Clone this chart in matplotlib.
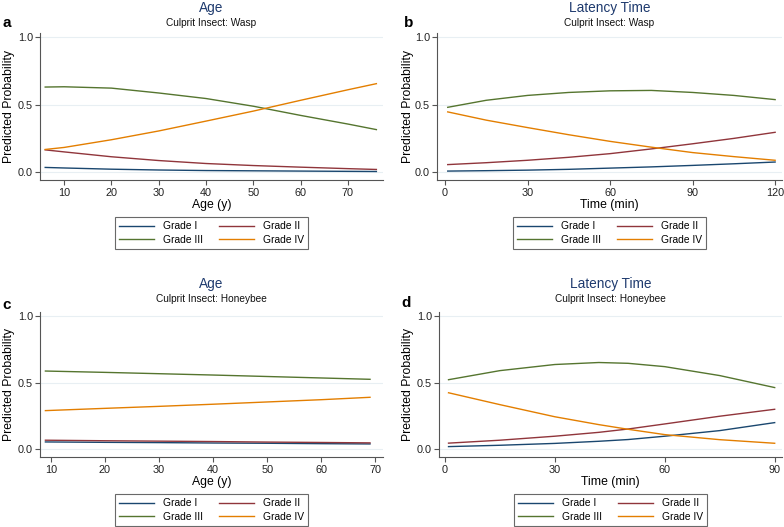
import matplotlib.pyplot as plt

plt.rcParams['font.family'] = ['Liberation Sans', 'DejaVu Sans']

# Panel a: Age, Wasp
age_wasp = [6, 10, 20, 30, 40, 50, 60, 70, 76]
aw_g1 = [0.035, 0.031, 0.022, 0.016, 0.012, 0.010, 0.008, 0.006, 0.005]
aw_g2 = [0.165, 0.150, 0.114, 0.086, 0.064, 0.049, 0.037, 0.026, 0.020]
aw_g3 = [0.630, 0.632, 0.622, 0.586, 0.545, 0.488, 0.420, 0.356, 0.315]
aw_g4 = [0.168, 0.183, 0.240, 0.305, 0.378, 0.452, 0.532, 0.610, 0.655]

# Panel b: Latency, Wasp
lat_wasp = [1, 15, 30, 45, 60, 75, 90, 105, 120]
lw_g1 = [0.008, 0.011, 0.015, 0.021, 0.030, 0.039, 0.050, 0.062, 0.075]
lw_g2 = [0.056, 0.070, 0.088, 0.110, 0.137, 0.172, 0.210, 0.250, 0.295]
lw_g3 = [0.480, 0.532, 0.568, 0.590, 0.602, 0.605, 0.590, 0.568, 0.537]
lw_g4 = [0.446, 0.385, 0.330, 0.277, 0.228, 0.185, 0.145, 0.115, 0.088]

# Panel c: Age, Honeybee
age_bee = [9, 20, 30, 40, 50, 60, 69]
ab_g1 = [0.055, 0.052, 0.050, 0.047, 0.045, 0.042, 0.040]
ab_g2 = [0.068, 0.064, 0.061, 0.058, 0.054, 0.051, 0.048]
ab_g3 = [0.587, 0.577, 0.567, 0.557, 0.546, 0.535, 0.525]
ab_g4 = [0.290, 0.307, 0.322, 0.338, 0.355, 0.372, 0.390]

# Panel d: Latency, Honeybee
lat_bee = [1, 15, 30, 42, 50, 60, 75, 90]
lb_g1 = [0.020, 0.030, 0.044, 0.060, 0.073, 0.098, 0.140, 0.200]
lb_g2 = [0.046, 0.068, 0.098, 0.127, 0.152, 0.190, 0.248, 0.300]
lb_g3 = [0.522, 0.590, 0.636, 0.651, 0.645, 0.620, 0.553, 0.463]
lb_g4 = [0.424, 0.335, 0.244, 0.185, 0.150, 0.110, 0.072, 0.045]

grades = ['Grade I', 'Grade II', 'Grade III', 'Grade IV']
colors = ['#1a476f', '#90353b', '#55752f', '#e37e00']

panels = [
    ('a', 'Age', 'Culprit Insect: Wasp', 'Age (y)', age_wasp,
     [aw_g1, aw_g2, aw_g3, aw_g4], [10, 20, 30, 40, 50, 60, 70], (4.9, 77.4)),
    ('b', 'Latency Time', 'Culprit Insect: Wasp', 'Time (min)', lat_wasp,
     [lw_g1, lw_g2, lw_g3, lw_g4], [0, 30, 60, 90, 120], (-2.9, 122.5)),
    ('c', 'Age', 'Culprit Insect: Honeybee', 'Age (y)', age_bee,
     [ab_g1, ab_g2, ab_g3, ab_g4], [10, 20, 30, 40, 50, 60, 70], (8.0, 71.4)),
    ('d', 'Latency Time', 'Culprit Insect: Honeybee', 'Time (min)', lat_bee,
     [lb_g1, lb_g2, lb_g3, lb_g4], [0, 30, 60, 90], (-1.6, 92.0)),
]

W, H = 784, 527
# axes boxes in pixels: left, top, right, bottom
boxes = [(40, 33, 383, 180), (437, 33, 782, 180),
         (40, 312, 383, 457), (439, 312, 782, 457)]
# title y, subtitle y, letter x, letter y (pixels)
heads = [(8, 23, 7, 23), (8, 23, 409, 23), (284, 299, 7, 305), (284, 299, 406, 303)]
# right edge of the rotated y label (pixels)
ylab_x = [15, 414, 15, 414]

fig = plt.figure(figsize=(W / 100, H / 100), dpi=100)

for i, (letter, title, sub, xlab, xs, series, xt, xl) in enumerate(panels):
    l, t, r, b = boxes[i]
    ty, sy, lx, ly = heads[i]
    ax = fig.add_axes([l / W, 1 - b / H, (r - l) / W, (b - t) / H])
    lines = []
    for ys, c, g in zip(series, colors, grades):
        lines += ax.plot(xs, ys, color=c, lw=1.0, label=g)
    ax.set_xlim(*xl)
    ax.set_ylim(-0.058, 1.03)
    ax.set_yticks([0, 0.5, 1.0])
    ax.set_yticklabels(['0.0', '0.5', '1.0'])
    ax.set_xticks(xt)
    for yv in [0, 0.5, 1.0]:
        ax.axhline(yv, color='#e8eff3', lw=0.8, zorder=0)
    for s in ['top', 'right']:
        ax.spines[s].set_visible(False)
    for s in ['left', 'bottom']:
        ax.spines[s].set_color('#555555')
        ax.spines[s].set_linewidth(0.8)
    ax.tick_params(colors='#555555', labelcolor='#222222', labelsize=7.8, length=3.5, width=0.8)
    ax.tick_params(axis='y', pad=1.5)
    ax.tick_params(axis='x', pad=2.5)
    ax.set_xlabel(xlab, fontsize=8.8)
    ax.xaxis.set_label_coords(0.5, -19 / (b - t))
    ax.set_ylabel('Predicted Probability', fontsize=8.8)
    ax.yaxis.set_label_coords((ylab_x[i] - l) / (r - l), 0.5)
    cx = (l + r) / 2 / W
    fig.text(cx, 1 - ty / H, title, ha='center', va='center', fontsize=9.8, color='#1e3a6e')
    fig.text(cx, 1 - sy / H, sub, ha='center', va='center', fontsize=7.3, color='#111111')
    fig.text(lx / W, 1 - ly / H, letter, ha='center', va='center', fontsize=11, fontweight='bold')
    # Stata fills the legend row by row
    order = [0, 2, 1, 3]
    leg = ax.legend([lines[k] for k in order], [grades[k] for k in order],
                    loc='upper center', bbox_to_anchor=(0.5, -(217 - 180) / (b - t)), ncol=2,
                    fontsize=7.4, frameon=True, fancybox=False, handlelength=3.4,
                    columnspacing=1.5, borderpad=0.4, labelspacing=0.35, handletextpad=0.9,
                    borderaxespad=0)
    leg.get_frame().set_edgecolor('#444444')
    leg.get_frame().set_linewidth(0.8)

fig.savefig('out.png', dpi=100, facecolor='white')
